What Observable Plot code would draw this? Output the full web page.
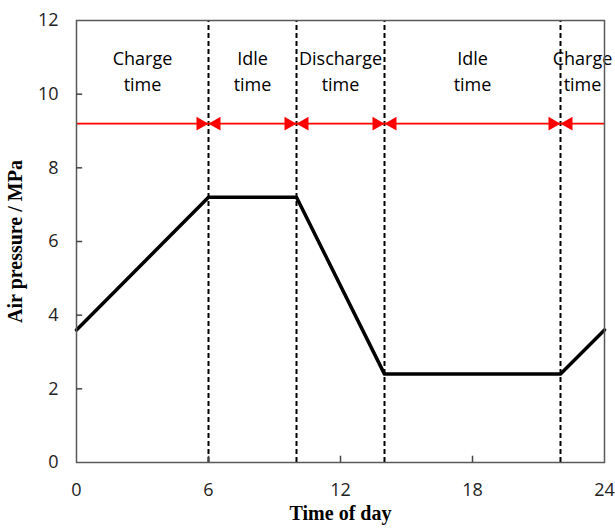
<!DOCTYPE html>
<html>
<head>
<meta charset="utf-8">
<script src="https://cdn.jsdelivr.net/npm/d3@7"></script>
<script src="https://cdn.jsdelivr.net/npm/@observablehq/plot@0.6"></script>
<style>
  body { margin: 0; background: #fff; }
</style>
</head>
<body>
<div id="chart"></div>
<script>
// Pressure curve (hour, MPa)
const hours = [0, 6, 10, 14, 22, 24];
const pressure = [3.6, 7.2, 7.2, 2.4, 2.4, 3.6];
// Phase boundaries (dashed lines)
const boundaries = [6, 10, 14, 22];
// Phase labels
const phaseNames = ["Charge\ntime", "Idle\ntime", "Discharge\ntime", "Idle\ntime", "Charge\ntime"];
const phaseCenters = [3, 8, 12, 18, 23];
const arrowLevel = 9.2;
const labelLevel = 10.67;
// Ticks
const xTicks = [0, 6, 12, 18, 24];
const yTicks = [0, 2, 4, 6, 8, 10, 12];

const curve = hours.map((h, i) => ({h, p: pressure[i]}));
const phases = phaseNames.map((n, i) => ({name: n, x: phaseCenters[i]}));

const chart = Plot.plot({
  width: 615,
  height: 530,
  marginLeft: 76,
  marginRight: 11,
  marginTop: 20,
  marginBottom: 68,
  style: {fontFamily: "'Open Sans', sans-serif", fontSize: "18px", color: "#000", background: "#fff"},
  x: {domain: [0, 24]},
  y: {domain: [0, 12]},
  marks: [
    Plot.axisX({ticks: xTicks, tickSize: 0, tickPadding: 21, label: null, fontSize: 18, fill: "#222"}),
    Plot.axisY({ticks: yTicks, tickSize: 0, tickPadding: 18, label: null, fontSize: 18, fill: "#222"}),
    // dashed boundaries
    Plot.ruleX(boundaries, {x: d => d, y1: 0, y2: 12, stroke: "#000", strokeWidth: 2, strokeDasharray: "5,3"}),
    // red arrow line
    Plot.ruleY([arrowLevel], {x1: 0, x2: 24, stroke: "#ff0000", strokeWidth: 1.8}),
    Plot.dot(boundaries, {x: d => d, y: arrowLevel, symbol: "triangle2", r: 6.6, fill: "#ff0000", stroke: null, rotate: 90, dx: -8}),
    Plot.dot(boundaries, {x: d => d, y: arrowLevel, symbol: "triangle2", r: 6.6, fill: "#ff0000", stroke: null, rotate: -90, dx: 8}),
    // phase labels
    Plot.text(phases, {x: "x", y: labelLevel, text: "name", fontSize: 18, lineHeight: 1.45, fill: "#000"}),
    // pressure curve
    Plot.line(curve, {x: "h", y: "p", stroke: "#000", strokeWidth: 3.5}),
    Plot.frame({stroke: "#595959", strokeWidth: 1.5}),
    // inward ticks
    Plot.ruleX(xTicks.slice(1, -1), {x: d => d, y1: 0, y2: 0.17, stroke: "#444", strokeWidth: 1.5}),
    Plot.ruleY(yTicks.slice(1, -1), {y: d => d, x1: 0, x2: 0.28, stroke: "#444", strokeWidth: 1.5}),
    // axis titles
    Plot.text(["Air pressure / MPa"], {frameAnchor: "left", textAnchor: "middle", dx: -61, rotate: -90, fontFamily: "'Liberation Serif', serif", fontWeight: "bold", fontSize: 20, fill: "#000"}),
    Plot.text(["Time of day"], {frameAnchor: "bottom", textAnchor: "middle", dy: 57, fontFamily: "'Liberation Serif', serif", fontWeight: "bold", fontSize: 20, fill: "#000"})
  ]
});
document.getElementById("chart").appendChild(chart);
</script>
</body>
</html>
